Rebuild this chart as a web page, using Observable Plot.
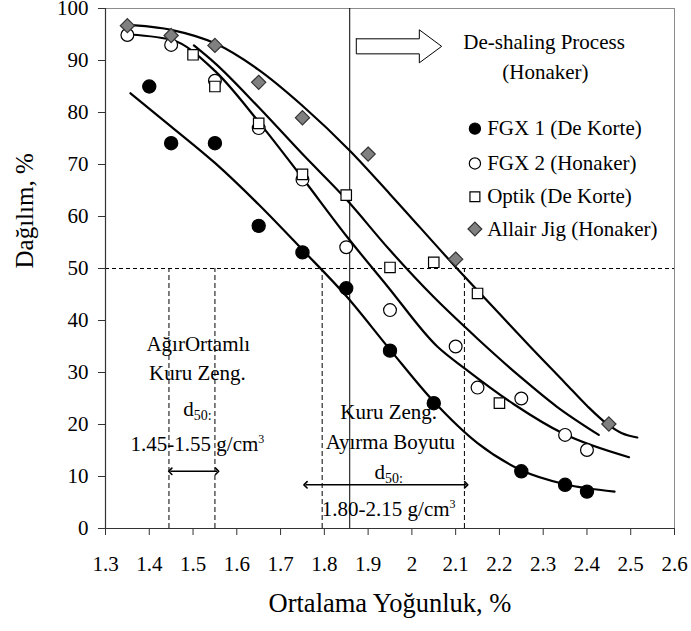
<!DOCTYPE html>
<html>
<head>
<meta charset="utf-8">
<script src="https://cdn.jsdelivr.net/npm/d3@7"></script>
<script src="https://cdn.jsdelivr.net/npm/@observablehq/plot@0.6"></script>
<style>
  body { margin: 0; background: #fff; }
  svg { display: block; }
  #chart svg, #chart svg text { font-family: "Liberation Serif", "Times New Roman", serif !important; }
</style>
</head>
<body>
<div id="chart"></div>
<script>
// Measured points: mean density (g/cm3) against distribution (%)
const fgx1X = [1.40, 1.45, 1.55, 1.65, 1.75, 1.85, 1.95, 2.05, 2.25, 2.35, 2.40];
const fgx1Y = [85.0, 74.1, 74.1, 58.2, 53.1, 46.2, 34.2, 24.1, 11.0, 8.4, 7.1];

const fgx2X = [1.35, 1.45, 1.55, 1.65, 1.75, 1.85, 1.95, 2.10, 2.15, 2.25, 2.35, 2.40];
const fgx2Y = [94.9, 93.0, 86.1, 77.0, 67.1, 54.1, 42.0, 35.0, 27.1, 25.0, 18.0, 15.1];

const optikX = [1.50, 1.55, 1.65, 1.75, 1.85, 1.95, 2.05, 2.15, 2.20];
const optikY = [91.1, 85.0, 77.9, 68.1, 64.1, 50.2, 51.2, 45.2, 24.1];

const allairX = [1.35, 1.45, 1.55, 1.65, 1.75, 1.90, 2.10, 2.45];
const allairY = [96.7, 94.8, 92.9, 85.8, 79.0, 72.0, 51.8, 20.1];

// Fitted partition curves
const fgx1FitX = [1.357, 1.45, 1.55, 1.65, 1.75, 1.85, 1.95, 2.05, 2.15, 2.25, 2.35, 2.463];
const fgx1FitY = [83.7, 77.3, 70.3, 62.3, 53.6, 44.7, 34.4, 24.4, 16.4, 11.2, 8.5, 7.1];

const fgx2FitX = [1.338, 1.45, 1.55, 1.65, 1.75, 1.85, 1.944, 2.058, 2.122, 2.233, 2.347, 2.496];
const fgx2FitY = [95.1, 94.0, 88.0, 78.2, 67.4, 56.3, 46.6, 35.0, 30.7, 23.9, 18.2, 13.7];

const optikFitX = [1.502, 1.55, 1.65, 1.75, 1.85, 1.95, 2.05, 2.15, 2.25, 2.33, 2.427];
const optikFitY = [92.9, 89.5, 81.0, 72.0, 63.3, 53.5, 44.5, 36.5, 29.0, 23.5, 18.0];

const allairFitX = [1.342, 1.45, 1.55, 1.65, 1.75, 1.86, 1.95, 2.10, 2.20, 2.27, 2.35, 2.40, 2.446, 2.48, 2.515];
const allairFitY = [96.9, 95.9, 93.3, 88.2, 81.3, 72.5, 64.3, 50.3, 41.3, 35.0, 28.0, 23.6, 20.1, 18.3, 17.5];

const seriesNames = ["FGX 1 (De Korte)", "FGX 2 (Honaker)", "Optik (De Korte)", "Allair Jig (Honaker)"];

// Axis ticks
const xTicks = [1.3, 1.4, 1.5, 1.6, 1.7, 1.8, 1.9, 2.0, 2.1, 2.2, 2.3, 2.4, 2.5, 2.6];
const yTicks = [0, 10, 20, 30, 40, 50, 60, 70, 80, 90, 100];

// d50 reference lines
const d50Level = 50;
const cutPoint = 1.858;
const d50Bounds = [1.445, 1.55, 1.795, 2.12];

// Annotation text (x, y in data units)
const noteLines = [
  {x: 1.512, y: 35.5, text: "AğırOrtamlı"},
  {x: 1.510, y: 29.9, text: "Kuru Zeng."},
  {x: 1.510, y: 23.0, text: "d50:"},
  {x: 1.510, y: 16.2, text: "1.45-1.55 g/cm3"},
  {x: 1.947, y: 22.3, text: "Kuru Zeng."},
  {x: 1.951, y: 16.5, text: "Ayırma Boyutu"},
  {x: 1.947, y: 10.8, text: "d50:"},
  {x: 1.947, y: 3.7, text: "1.80-2.15 g/cm3"},
  {x: 2.302, y: 93.5, text: "De-shaling Process"},
  {x: 2.305, y: 87.7, text: "(Honaker)"}
];

// Range arrows
const rangeArrows = [
  {x1: 1.448, x2: 1.555, y: 11.0},
  {x1: 1.757, x2: 2.124, y: 8.4}
];

// Block arrow outline pointing to the de-shaling note
const blockArrowX = [1.873, 2.017, 2.017, 2.068, 2.017, 2.017, 1.873, 1.873];
const blockArrowY = [94.17, 94.17, 95.9, 92.72, 89.55, 91.28, 91.28, 94.17];

// Legend rows
const legendY = [76.9, 70.2, 63.8, 57.6];
const legendMarkX = 2.144;
const legendTextX = 2.172;

// Marker styles per series
const styles = [
  {symbol: "circle", fill: "black", stroke: "black", r: 6.6},
  {symbol: "circle", fill: "white", stroke: "black", r: 6.4},
  {symbol: "square", fill: "white", stroke: "black", r: 5.9},
  {symbol: "diamond2", fill: "#808080", stroke: "#333", r: 6.4}
];

const pts = [[fgx1X, fgx1Y], [fgx2X, fgx2Y], [optikX, optikY], [allairX, allairY]];
const fits = [[fgx1FitX, fgx1FitY], [fgx2FitX, fgx2FitY], [optikFitX, optikFitY], [allairFitX, allairFitY]];

const fitRows = fits.flatMap(([xs, ys], i) => xs.map((x, j) => ({name: seriesNames[i], x, y: ys[j]})));
const blockArrow = blockArrowX.map((x, i) => ({x, y: blockArrowY[i]}));

const dotMarks = pts.map(([xs, ys], i) =>
  Plot.dot(xs.map((x, j) => ({x, y: ys[j]})), {
    x: "x", y: "y",
    symbol: () => styles[i].symbol,
    r: styles[i].r,
    fill: styles[i].fill,
    stroke: styles[i].stroke,
    strokeWidth: 1.2
  })
);

const legendMarks = seriesNames.map((name, i) =>
  Plot.dot([{x: legendMarkX, y: legendY[i]}], {
    x: "x", y: "y",
    symbol: () => styles[i].symbol,
    r: i === 3 ? 6.2 : 5.6,
    fill: styles[i].fill,
    stroke: styles[i].stroke,
    strokeWidth: 1.2
  })
);

const fmt = d => String(+d.toFixed(1));

const chart = Plot.plot({
  width: 691,
  height: 631,
  marginLeft: 105,
  marginRight: 17,
  marginTop: 8,
  marginBottom: 103,
  style: {fontFamily: "Liberation Serif", fontSize: "21px", color: "black", background: "white", overflow: "visible"},
  x: {domain: [1.3, 2.6], ticks: xTicks},
  y: {domain: [0, 100], ticks: yTicks},
  symbol: {type: "identity"},
  marks: [
    Plot.frame({stroke: "#8c8c8c", strokeWidth: 1}),
    // 50 % level and d50 bounds
    Plot.ruleY([d50Level], {stroke: "black", strokeWidth: 1, strokeDasharray: "4,3"}),
    Plot.ruleX(d50Bounds, {y1: 0, y2: d50Level, stroke: "black", strokeWidth: 1, strokeDasharray: "5,3"}),
    Plot.ruleX([cutPoint], {y1: 0, y2: 100, stroke: "black", strokeWidth: 1}),
    // fitted curves
    Plot.line(fitRows, {x: "x", y: "y", z: "name", curve: "monotone-x", stroke: "black", strokeWidth: 2.2}),
    ...dotMarks,
    // block arrow and annotations
    Plot.line(blockArrow, {x: "x", y: "y", stroke: "black", fill: "white", strokeWidth: 1}),
    Plot.link(rangeArrows, {x1: "x1", x2: "x2", y1: "y", y2: "y", stroke: "black", strokeWidth: 1.6,
      markerStart: "arrow-reverse", markerEnd: "arrow"}),
    Plot.text(noteLines, {x: "x", y: "y", text: "text", fill: "black", fontSize: 21, textAnchor: "middle"}),
    // legend
    ...legendMarks,
    Plot.text(seriesNames.map((name, i) => ({x: legendTextX, y: legendY[i], name})),
      {x: "x", y: "y", text: "name", textAnchor: "start", fill: "black", fontSize: 21}),
    // axes
    Plot.axisX({ticks: xTicks, tickSize: 7, tickPadding: 21, tickFormat: fmt, label: null, stroke: "#333", fill: "black"}),
    Plot.axisY({ticks: yTicks, tickSize: 7, tickPadding: 10, label: null, stroke: "#333", fill: "black"}),
    Plot.ruleX([1.3], {stroke: "#333", strokeWidth: 1.2}),
    Plot.ruleY([0], {stroke: "#333", strokeWidth: 1.2}),
    // axis titles
    Plot.text(["Dağılım, %"], {frameAnchor: "left", dx: -81, rotate: -90, fontSize: 25, fill: "black"}),
    Plot.text(["Ortalama Yoğunluk, %"], {frameAnchor: "bottom", dy: 83, fontSize: 26.5, fill: "black"})
  ]
});

const svg = d3.select(chart);
svg.attr("font-family", "Liberation Serif");
svg.selectAll("text").attr("font-family", "Liberation Serif");

// subscript / superscript in the d50 labels
svg.selectAll("text").each(function () {
  const t = this.textContent;
  const sel = d3.select(this);
  if (t === "d50:") {
    sel.text(null);
    sel.append("tspan").text("d");
    sel.append("tspan").attr("font-size", 14).attr("dy", "0.3em").text("50:");
  } else if (/g\/cm3$/.test(t)) {
    sel.text(null);
    sel.append("tspan").text(t.slice(0, -1));
    sel.append("tspan").attr("font-size", 12).attr("dy", "-0.65em").text("3");
  }
});

document.getElementById("chart").appendChild(chart);
</script>
</body>
</html>
